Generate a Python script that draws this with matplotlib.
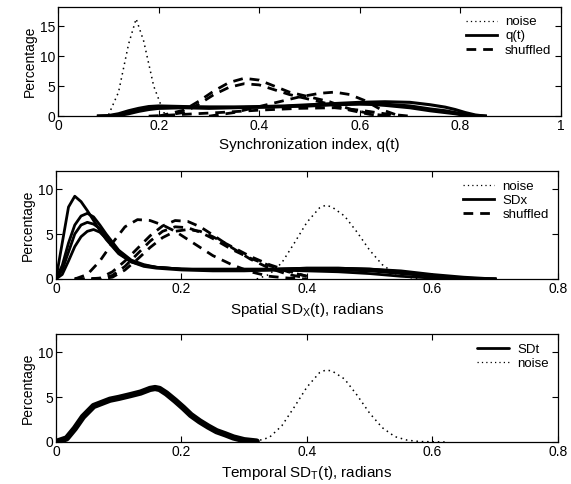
import matplotlib
matplotlib.use("Agg")
import matplotlib.pyplot as plt

plt.rcParams["font.family"] = ["Liberation Sans", "DejaVu Sans"]
plt.rcParams["mathtext.fontset"] = "custom"
plt.rcParams["mathtext.rm"] = "Liberation Sans"

# ---- panel 1: synchronization index ----
noise1_x = [0.09, 0.10, 0.12, 0.14, 0.155, 0.17, 0.19, 0.21, 0.22]
noise1_y = [0, 0.2, 4.0, 12.0, 16.2, 12.5, 5.0, 0.6, 0]

q_x = [0.08, 0.10, 0.12, 0.14, 0.16, 0.18, 0.20, 0.25, 0.30, 0.35, 0.40, 0.45,
       0.50, 0.55, 0.60, 0.65, 0.70, 0.74, 0.77, 0.79, 0.81, 0.83, 0.85]
q_curves = [
    [0, 0.1, 0.4, 0.9, 1.3, 1.6, 1.7, 1.6, 1.5, 1.5, 1.6, 1.7, 1.9, 2.1, 2.3, 2.4, 2.3, 1.9, 1.5, 1.1, 0.6, 0.2, 0],
    [0, 0.05, 0.2, 0.6, 1.0, 1.3, 1.4, 1.5, 1.5, 1.5, 1.5, 1.6, 1.7, 1.9, 2.0, 2.0, 1.7, 1.2, 0.9, 0.6, 0.3, 0.1, 0],
    [0, 0, 0.1, 0.4, 0.8, 1.1, 1.3, 1.4, 1.3, 1.4, 1.5, 1.6, 1.8, 2.0, 2.1, 1.8, 1.4, 0.9, 0.6, 0.4, 0.1, 0, 0],
]

sh1_x = [0.20, 0.25, 0.28, 0.31, 0.34, 0.37, 0.40, 0.43, 0.46, 0.50, 0.54, 0.58, 0.62, 0.66]
sh1_curves = [
    [0, 1.0, 2.5, 4.2, 5.6, 6.3, 6.0, 5.0, 4.0, 3.2, 2.4, 1.2, 0.4, 0],
    [0, 0.6, 2.0, 3.6, 4.8, 5.4, 5.2, 4.4, 3.6, 2.8, 2.0, 1.0, 0.3, 0],
]
sh1b_x = [0.30, 0.35, 0.40, 0.44, 0.48, 0.52, 0.55, 0.58, 0.61, 0.64, 0.68]
sh1b_y = [0, 0.6, 1.6, 2.4, 3.2, 3.8, 4.0, 3.6, 2.6, 1.2, 0]
sh1c_x = [0.18, 0.25, 0.32, 0.40, 0.48, 0.55, 0.60, 0.65, 0.70]
sh1c_y = [0, 0.3, 0.6, 1.0, 1.3, 1.4, 1.0, 0.4, 0]

# ---- panel 2: spatial SD ----
sdx_x = [0, 0.01, 0.02, 0.03, 0.04, 0.05, 0.06, 0.07, 0.08, 0.10, 0.12, 0.14,
         0.16, 0.20, 0.25, 0.30, 0.35, 0.40, 0.45, 0.50, 0.55, 0.60, 0.65, 0.70]
sdx_curves = [
    [0, 4.0, 8.0, 9.2, 8.6, 7.6, 6.5, 5.4, 4.4, 2.8, 1.9, 1.5, 1.3, 1.1, 1.0, 1.0, 1.0, 0.9, 0.8, 0.6, 0.3, 0.1, 0, 0],
    [0, 1.5, 4.0, 6.0, 7.0, 7.3, 6.9, 6.0, 5.0, 3.2, 2.1, 1.6, 1.3, 1.1, 1.1, 1.1, 1.1, 1.2, 1.2, 1.1, 0.8, 0.4, 0.1, 0],
    [0, 1.0, 3.0, 5.0, 6.0, 6.3, 6.1, 5.6, 4.8, 3.1, 2.0, 1.5, 1.3, 1.1, 1.0, 1.0, 1.1, 1.2, 1.2, 1.1, 0.9, 0.5, 0.2, 0],
    [0, 0.5, 2.0, 3.6, 4.7, 5.3, 5.5, 5.2, 4.5, 2.9, 1.9, 1.4, 1.2, 1.0, 0.9, 0.9, 1.0, 1.1, 1.0, 0.9, 0.6, 0.3, 0.05, 0],
]

sh2_x = [0.03, 0.05, 0.07, 0.09, 0.11, 0.13, 0.15, 0.17, 0.19, 0.21, 0.23, 0.25,
         0.28, 0.31, 0.34, 0.37, 0.40]
sh2_curves = [
    [0, 0.5, 2.0, 4.0, 5.8, 6.6, 6.5, 6.0, 5.3, 4.4, 3.5, 2.6, 1.6, 0.8, 0.3, 0.1, 0],
    [0, 0, 0.1, 0.8, 2.0, 3.4, 4.8, 5.9, 6.5, 6.4, 5.8, 4.9, 3.5, 2.2, 1.2, 0.5, 0.1],
    [0, 0, 0, 0.4, 1.4, 2.8, 4.2, 5.3, 5.8, 5.7, 5.2, 4.5, 3.3, 2.3, 1.5, 0.8, 0.3],
    [0, 0, 0, 0.2, 1.0, 2.2, 3.5, 4.6, 5.3, 5.5, 5.3, 4.7, 3.6, 2.5, 1.6, 0.9, 0.3],
]

noise2_x = [0.32, 0.34, 0.36, 0.38, 0.40, 0.42, 0.43, 0.44, 0.46, 0.48, 0.50, 0.52, 0.54, 0.56, 0.58]
noise2_y = [0, 0.5, 1.8, 4.0, 6.3, 7.9, 8.2, 8.0, 7.0, 5.2, 3.2, 1.6, 0.6, 0.2, 0]

# ---- panel 3: temporal SD ----
sdt_x = [0, 0.017, 0.03, 0.043, 0.06, 0.086, 0.10, 0.118, 0.135, 0.15, 0.158, 0.165,
         0.176, 0.19, 0.203, 0.215, 0.229, 0.243, 0.256, 0.27, 0.283, 0.30, 0.32]
sdt_y = [0, 0.4, 1.5, 2.8, 4.0, 4.7, 4.9, 5.2, 5.5, 5.9, 6.0, 5.9,
         5.4, 4.6, 3.8, 3.0, 2.3, 1.7, 1.2, 0.85, 0.5, 0.2, 0.05]

noise3_x = [0.30, 0.32, 0.34, 0.36, 0.38, 0.40, 0.42, 0.43, 0.44, 0.46, 0.48, 0.50,
            0.52, 0.54, 0.56, 0.58, 0.62]
noise3_y = [0, 0.1, 0.5, 1.8, 3.9, 6.1, 7.7, 8.0, 7.9, 7.0, 5.2, 3.2, 1.6, 0.6, 0.2, 0.05, 0]

dot = (0, (1, 2.5))
dash = (0, (3.5, 2.5))

fig = plt.figure(figsize=(5.71, 4.84), dpi=100)
ax1 = fig.add_axes([0.102, 0.760, 0.880, 0.226])
ax2 = fig.add_axes([0.098, 0.4236, 0.879, 0.223])
ax3 = fig.add_axes([0.098, 0.0868, 0.879, 0.223])

# panel 1
ax1.plot(noise1_x, noise1_y, color="black", lw=1.1, ls=dot, label="noise")
for i, y in enumerate(q_curves):
    ax1.plot(q_x, y, color="black", lw=2.2, label="q(t)" if i == 0 else None)
for i, y in enumerate(sh1_curves):
    ax1.plot(sh1_x, y, color="black", lw=2, ls=dash, label="shuffled" if i == 0 else None)
ax1.plot(sh1b_x, sh1b_y, color="black", lw=2, ls=dash)
ax1.plot(sh1c_x, sh1c_y, color="black", lw=2, ls=dash)
ax1.set_xlim(0, 1)
ax1.set_ylim(0, 18.2)
ax1.set_yticks([0, 5, 10, 15])
ax1.set_xticks([0, 0.2, 0.4, 0.6, 0.8, 1])
ax1.set_xticklabels(["0", "0.2", "0.4", "0.6", "0.8", "1"])
ax1.set_xlabel("Synchronization index, q(t)")

# panel 2
ax2.plot(noise2_x, noise2_y, color="black", lw=1.1, ls=dot, label="noise")
for i, y in enumerate(sdx_curves):
    ax2.plot(sdx_x, y, color="black", lw=2, label="SDx" if i == 0 else None)
for i, y in enumerate(sh2_curves):
    ax2.plot(sh2_x, y, color="black", lw=2, ls=dash, label="shuffled" if i == 0 else None)
ax2.set_xlim(0, 0.8)
ax2.set_ylim(0, 12)
ax2.set_yticks([0, 5, 10])
ax2.set_xticks([0, 0.2, 0.4, 0.6, 0.8])
ax2.set_xticklabels(["0", "0.2", "0.4", "0.6", "0.8"])
ax2.set_xlabel(r"Spatial SD$_\mathrm{X}$(t), radians")

# panel 3
ax3.plot(sdt_x, sdt_y, color="black", lw=4.5, solid_capstyle="round", label="SDt")
ax3.plot(noise3_x, noise3_y, color="black", lw=1.1, ls=dot, label="noise")
ax3.set_xlim(0, 0.8)
ax3.set_ylim(0, 12)
ax3.set_yticks([0, 5, 10])
ax3.set_xticks([0, 0.2, 0.4, 0.6, 0.8])
ax3.set_xticklabels(["0", "0.2", "0.4", "0.6", "0.8"])
ax3.set_xlabel(r"Temporal SD$_\mathrm{T}$(t), radians")

for ax in (ax1, ax2, ax3):
    ax.set_ylabel("Percentage", fontsize=10, labelpad=2)
    ax.xaxis.label.set_size(11)
    ax.tick_params(direction="in", top=True, right=True, labelsize=10, length=4, width=0.8, pad=2)
    for s in ax.spines.values():
        s.set_linewidth(0.9)
    leg = ax.legend(loc="upper right", frameon=False, fontsize=9.5, handlelength=2.4,
                    labelspacing=0.15, borderaxespad=0.3, handletextpad=0.6)
    for h in leg.get_lines():
        if h.get_label() == "noise":
            h.set_linewidth(0.9)
        else:
            h.set_linewidth(2)

fig.savefig("out.png", dpi=100)
